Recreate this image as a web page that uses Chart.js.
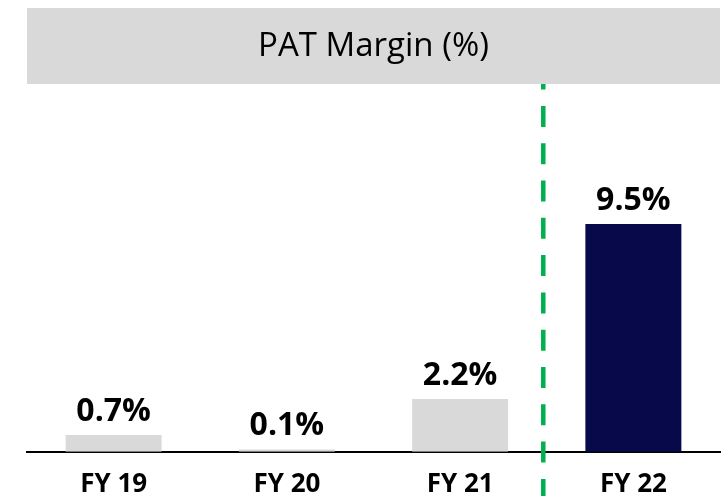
<!DOCTYPE html>
<html>
<head>
<meta charset="utf-8">
<title>PAT Margin (%)</title>
<script src="https://cdn.jsdelivr.net/npm/chart.js@4.4.1/dist/chart.umd.min.js"></script>
<style>
    html, body { margin: 0; padding: 0; background: #ffffff; }
    #wrap { width: 728px; height: 496px; }
</style>
</head>
<body>
<div id="wrap"><canvas id="patChart" width="728" height="496"></canvas></div>
<script>
// data
const categories = ['FY 19', 'FY 20', 'FY 21', 'FY 22'];
const patMargin = [0.7, 0.1, 2.2, 9.5];
const valueLabels = ['0.7%', '0.1%', '2.2%', '9.5%'];
const chartTitle = 'PAT Margin (%)';

// where the green divider sits (between FY 21 and FY 22)
const DIVIDER_AT = 2.48;

const FONT = "'Open Sans', 'Liberation Sans', sans-serif";

/**
 * Plugin: value labels above bars, green divider and the grey title banner
 */
const decorPlugin = {
    id: 'decor',
    afterDatasetsDraw(chart) {
        const ctx = chart.ctx;
        const meta = chart.getDatasetMeta(0);
        ctx.save();
        ctx.fillStyle = '#000000';
        ctx.font = 'bold 32px ' + FONT;
        ctx.textAlign = 'center';
        ctx.textBaseline = 'alphabetic';
        meta.data.forEach(function (bar, i) {
            ctx.fillText(valueLabels[i], bar.x, bar.y - 14);
        });
        ctx.restore();
    },
    afterDraw(chart) {
        const ctx = chart.ctx;
        const area = chart.chartArea;
        const xScale = chart.scales.x;

        // dashed green divider
        const dx = xScale.getPixelForValue(DIVIDER_AT);
        ctx.save();
        ctx.strokeStyle = '#00b050';
        ctx.lineWidth = 4.5;
        ctx.setLineDash([21, 16.3]);
        ctx.beginPath();
        ctx.moveTo(dx, 31.3);
        ctx.lineTo(dx, chart.height);
        ctx.stroke();
        ctx.restore();

        // title banner
        ctx.save();
        ctx.fillStyle = '#d9d9d9';
        ctx.fillRect(area.left, 8, area.right - area.left, 76);
        ctx.fillStyle = '#000000';
        ctx.font = '33px ' + FONT;
        ctx.textAlign = 'center';
        ctx.textBaseline = 'middle';
        ctx.fillText(chartTitle, (area.left + area.right) / 2, 47);
        ctx.restore();
    }
};

document.addEventListener('DOMContentLoaded', function () {
    const canvas = document.getElementById('patChart');
    new Chart(canvas, {
        type: 'bar',
        data: {
            labels: categories,
            datasets: [{
                data: patMargin,
                backgroundColor: ['#d9d9d9', '#d9d9d9', '#d9d9d9', '#08094b'],
                borderWidth: 0,
                barPercentage: 0.554,
                categoryPercentage: 1
            }]
        },
        options: {
            responsive: false,
            animation: false,
            devicePixelRatio: 1,
            layout: {
                padding: { top: 116, left: 27, right: 8, bottom: -21 }
            },
            plugins: {
                legend: { display: false },
                tooltip: { enabled: false },
                title: { display: false }
            },
            scales: {
                x: {
                    z: 1,
                    offset: true,
                    grid: { display: false, drawTicks: false },
                    border: { display: true, color: '#000000', width: 2 },
                    ticks: {
                        color: '#000000',
                        padding: 17,
                        font: { family: FONT, size: 26, weight: 'bold' }
                    }
                },
                y: {
                    display: false,
                    min: 0,
                    max: 14
                }
            }
        },
        plugins: [decorPlugin]
    });
});
</script>
</body>
</html>
